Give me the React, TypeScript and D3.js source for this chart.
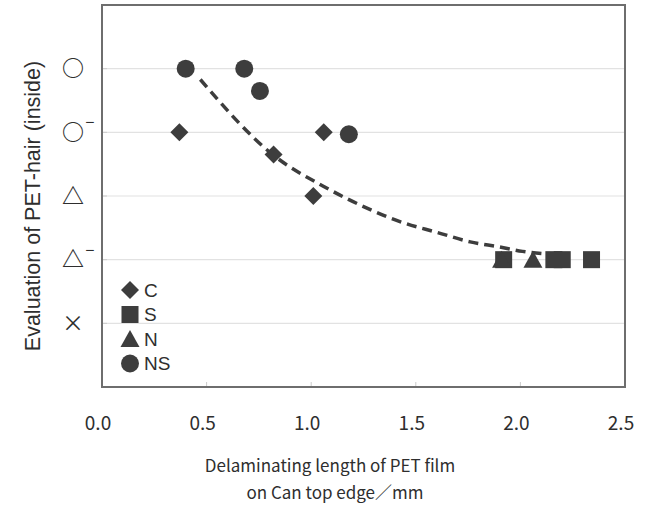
import React from "react";
import * as d3 from "d3";

// evaluation levels, bottom to top (index + 1 = level on the y scale)
const levelLabels = ["×", "△", "△", "○", "○"];
const levelMinus = [false, true, false, true, false];
const xTicks = [0, 0.5, 1.0, 1.5, 2.0, 2.5];

const cX = [0.37, 1.06, 0.82, 1.01];
const cY = [4, 4, 3.65, 3.0];
const sX = [1.92, 2.16, 2.2, 2.34];
const sY = [2, 2, 2, 2];
const nX = [1.91, 2.06];
const nY = [2, 2];
const nsX = [0.4, 0.68, 0.755, 1.18];
const nsY = [5, 5, 4.65, 3.97];

// dashed trend line
const trendX = [0.47, 0.82, 1.06, 1.28, 1.44, 1.6, 1.76, 1.9, 2.01, 2.12];
const trendY = [4.83, 3.64, 3.15, 2.79, 2.58, 2.43, 2.28, 2.2, 2.13, 2.09];

const legendNames = ["C", "S", "N", "NS"];

const ink = "#3d3d3d";
const textInk = "#2e2e2e";
const font = "'Noto Sans CJK JP', 'Liberation Sans', sans-serif";
const titleFont = "'Liberation Sans', Arial, sans-serif";

const Marker = ({ kind, x, y }) => {
  if (kind === "C") {
    const r = 9;
    return <path d={`M${x},${y - r}L${x + r},${y}L${x},${y + r}L${x - r},${y}Z`} fill={ink} />;
  }
  if (kind === "S") {
    return <rect x={x - 8.5} y={y - 8.5} width={17} height={17} fill={ink} />;
  }
  if (kind === "N") {
    return <path d={`M${x},${y - 9}L${x + 9.5},${y + 8}L${x - 9.5},${y + 8}Z`} fill={ink} />;
  }
  return <circle cx={x} cy={y} r={9} fill={ink} />;
};

export default function App() {
  const width = 646;
  const height = 507;
  const left = 102;
  const right = 625;
  const top = 5;
  const bottom = 387;

  const x = d3.scaleLinear().domain([0, 2.5]).range([left, right]);
  const y = d3.scaleLinear().domain([0, 6]).range([bottom, top]);

  const series = [
    { kind: "C", xs: cX, ys: cY },
    { kind: "S", xs: sX, ys: sY },
    { kind: "N", xs: nX, ys: nY },
    { kind: "NS", xs: nsX, ys: nsY },
  ];

  const trend = d3
    .line()
    .x((d) => x(d[0]))
    .y((d) => y(d[1]))
    .curve(d3.curveMonotoneX)(trendX.map((v, i) => [v, trendY[i]]));

  return (
    <svg width={width} height={height} style={{ display: "block", position: "absolute", left: 0, top: 0 }}>
      <rect width={width} height={height} fill="#fff" />
      {levelLabels.map((_, i) => (
        <line key={i} x1={left} x2={right} y1={y(i + 1)} y2={y(i + 1)} stroke="#e2e2e2" strokeWidth={1.2} />
      ))}
      {levelLabels.map((_, i) => (
        <line key={"t" + i} x1={left} x2={left + 5} y1={y(i + 1)} y2={y(i + 1)} stroke="#ccc" />
      ))}
      {xTicks.slice(1, -1).map((t) => (
        <line key={t} x1={x(t)} x2={x(t)} y1={bottom} y2={bottom - 5} stroke="#ccc" />
      ))}
      <rect x={left} y={top} width={right - left} height={bottom - top} fill="none" stroke="#6e6e6e" strokeWidth={2} />

      {levelLabels.map((s, i) => (
        <g key={"l" + i} fontFamily={font} fill={textInk}>
          <text x={73} y={y(i + 1)} dy="0.35em" textAnchor="middle" fontSize={22} fontWeight={s === "×" ? 400 : 700}>
            {s}
          </text>
          {levelMinus[i] && (
            <text x={90} y={y(i + 1) - 4} textAnchor="middle" fontSize={16}>
              −
            </text>
          )}
        </g>
      ))}

      {xTicks.map((t) => (
        <text key={t} x={x(t) - 4} y={430} textAnchor="middle" fontSize={19} fontFamily={font} fill={textInk}>
          {d3.format(".1f")(t)}
        </text>
      ))}

      <path d={trend} fill="none" stroke={ink} strokeWidth={3.5} strokeDasharray="10 6" />

      {series.map((s) =>
        s.xs.map((v, i) => <Marker key={s.kind + i} kind={s.kind} x={x(v)} y={y(s.ys[i])} />)
      )}

      {legendNames.map((name, i) => (
        <g key={name}>
          <Marker kind={name} x={130} y={290 + i * 24.5} />
          <text x={144} y={290 + i * 24.5} dy="0.36em" fontSize={19} fontFamily={titleFont} fill={textInk}>
            {name}
          </text>
        </g>
      ))}

      <text
        transform={`translate(40,206) rotate(-90)`}
        textAnchor="middle"
        fontSize={21.5}
        fontFamily={titleFont}
        fill={textInk}
      >
        Evaluation of PET-hair (inside)
      </text>
      <text x={330} y={472} textAnchor="middle" fontSize={17} fontFamily={font} fill={textInk}>
        Delaminating length of PET film
      </text>
      <text x={335} y={499} textAnchor="middle" fontSize={17} fontFamily={font} fill={textInk}>
        on Can top edge／mm
      </text>
    </svg>
  );
}
